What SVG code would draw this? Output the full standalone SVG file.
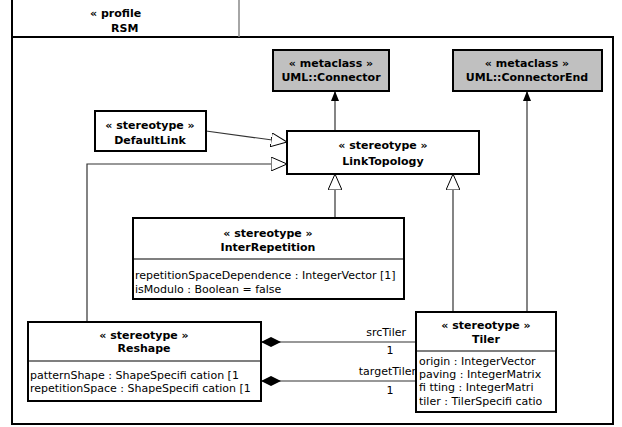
<svg xmlns="http://www.w3.org/2000/svg" width="622" height="427" viewBox="0 0 622 427">
<style>
  text { font-family: "DejaVu Sans", "Liberation Sans", sans-serif; font-size: 11px; fill: #000; }
  .b { font-weight: bold; }
  .c { text-anchor: middle; }
  .r { text-anchor: end; }
  .box { fill: #fff; stroke: #000; stroke-width: 2; }
  .meta { fill: #c0c0c0; stroke: #000; stroke-width: 2; }
  .div { stroke: #000; stroke-width: 1.2; }
  .ln { fill: none; stroke: #333; stroke-width: 1.2; }
</style>
<defs>
  <marker id="gen" viewBox="0 0 16 14" refX="16" refY="7" markerWidth="16" markerHeight="14" markerUnits="userSpaceOnUse" orient="auto">
    <path d="M0,0 L16,7 L0,14 Z" fill="#fff" stroke="#000" stroke-width="1"/>
  </marker>
  <marker id="ext" viewBox="0 0 10 10" refX="10" refY="5" markerWidth="10" markerHeight="10" markerUnits="userSpaceOnUse" orient="auto">
    <path d="M0,1 L10,5 L0,9 Z" fill="#000"/>
  </marker>
  <marker id="dia" viewBox="0 0 20 10" refX="0" refY="5" markerWidth="20" markerHeight="10" markerUnits="userSpaceOnUse" orient="auto">
    <path d="M0,5 L10,0 L20,5 L10,10 Z" fill="#000"/>
  </marker>
</defs>

<g id="frame">
  <rect x="12" y="37" width="601" height="387" fill="#fff" stroke="#000" stroke-width="2"/>
  <line x1="12" y1="0" x2="12" y2="37" stroke="#000" stroke-width="2"/>
  <line x1="239" y1="0" x2="239" y2="37" stroke="#888" stroke-width="1.5"/>
  <text class="b" x="90" y="17">« profile</text>
  <text class="b" x="111" y="32">RSM</text>
</g>

<g id="connectors">
  <line class="ln" x1="335" y1="131" x2="335" y2="91" marker-end="url(#ext)"/>
  <line class="ln" x1="527" y1="312" x2="527" y2="91" marker-end="url(#ext)"/>
  <line class="ln" x1="206" y1="131" x2="287" y2="142" marker-end="url(#gen)"/>
  <polyline class="ln" points="87,322 87,164 287,164" marker-end="url(#gen)"/>
  <line class="ln" x1="335" y1="218" x2="335" y2="174" marker-end="url(#gen)"/>
  <line class="ln" x1="453" y1="312" x2="453" y2="174" marker-end="url(#gen)"/>
  <line class="ln" x1="261" y1="342" x2="416" y2="342" marker-start="url(#dia)"/>
  <line class="ln" x1="261" y1="381" x2="416" y2="381" marker-start="url(#dia)"/>
  <text class="r" x="406" y="336">srcTiler</text>
  <text class="c" x="390" y="354">1</text>
  <text class="r" x="416" y="375">targetTiler</text>
  <text class="c" x="390" y="394">1</text>
</g>

<g id="UML_Connector">
  <rect class="meta" x="273" y="50" width="116" height="41"/>
  <text class="b c" x="331" y="67">« metaclass »</text>
  <text class="b c" x="331" y="81">UML::Connector</text>
</g>

<g id="UML_ConnectorEnd">
  <rect class="meta" x="453" y="50" width="149" height="41"/>
  <text class="b c" x="527" y="67">« metaclass »</text>
  <text class="b c" x="527" y="81">UML::ConnectorEnd</text>
</g>

<g id="DefaultLink">
  <rect class="box" x="95" y="111" width="111" height="40"/>
  <text class="b c" x="150" y="129">« stereotype »</text>
  <text class="b c" x="150" y="144">DefaultLink</text>
</g>

<g id="LinkTopology">
  <rect class="box" x="287" y="131" width="192" height="43"/>
  <text class="b c" x="383" y="149">« stereotype »</text>
  <text class="b c" x="383" y="165">LinkTopology</text>
</g>

<g id="InterRepetition">
  <rect class="box" x="133" y="218" width="271" height="81"/>
  <line class="div" x1="133" y1="259" x2="404" y2="259"/>
  <text class="b c" x="268" y="237">« stereotype »</text>
  <text class="b c" x="268" y="251">InterRepetition</text>
  <text x="135" y="279">repetitionSpaceDependence : IntegerVector [1]</text>
  <text x="135" y="293">isModulo : Boolean = false</text>
</g>

<g id="Reshape">
  <rect class="box" x="28" y="322" width="233" height="79"/>
  <line class="div" x1="28" y1="361" x2="261" y2="361"/>
  <text class="b c" x="144" y="339">« stereotype »</text>
  <text class="b c" x="144" y="352">Reshape</text>
  <text x="30" y="379">patternShape : ShapeSpecifi cation [1</text>
  <text x="30" y="392">repetitionSpace : ShapeSpecifi cation [1</text>
</g>

<g id="Tiler">
  <rect class="box" x="416" y="312" width="140" height="100"/>
  <line class="div" x1="416" y1="351" x2="556" y2="351"/>
  <text class="b c" x="486" y="329">« stereotype »</text>
  <text class="b c" x="486" y="343">Tiler</text>
  <text x="419" y="365">origin : IntegerVector</text>
  <text x="419" y="378">paving : IntegerMatrix</text>
  <text x="419" y="391">fi tting : IntegerMatri</text>
  <text x="419" y="405">tiler : TilerSpecifi catio</text>
</g>
</svg>
